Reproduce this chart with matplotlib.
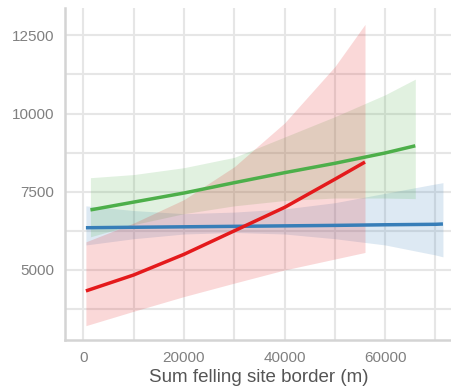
import numpy as np
import matplotlib.pyplot as plt
from matplotlib.ticker import MultipleLocator

plt.rcParams["font.family"] = ["Liberation Sans", "DejaVu Sans"]

# red series
red_x = [500, 10000, 20000, 30000, 40000, 50000, 56000]
red_fit = [4330, 4840, 5500, 6250, 7000, 7900, 8450]
red_lo = [3220, 3680, 4150, 4580, 5000, 5350, 5560]
red_hi = [5900, 6500, 7250, 8300, 9700, 11500, 12850]

# green series
green_x = [1400, 10000, 20000, 30000, 40000, 50000, 60000, 66000]
green_fit = [6920, 7170, 7460, 7790, 8110, 8410, 8740, 8970]
green_lo = [6060, 6450, 6800, 7050, 7220, 7300, 7300, 7280]
green_hi = [7950, 8050, 8270, 8600, 9250, 9900, 10600, 11100]

# blue series
blue_x = [500, 10000, 20000, 30000, 40000, 50000, 60000, 70000, 71500]
blue_fit = [6350, 6365, 6380, 6395, 6410, 6425, 6445, 6460, 6470]
blue_lo = [5800, 6000, 6150, 6200, 6150, 6000, 5800, 5480, 5420]
blue_hi = [7050, 6900, 6800, 6850, 6950, 7150, 7450, 7750, 7790]

series = [
    (blue_x, blue_fit, blue_lo, blue_hi, "#377eb8"),
    (green_x, green_fit, green_lo, green_hi, "#4daf4a"),
    (red_x, red_fit, red_lo, red_hi, "#e41a1c"),
]

fig = plt.figure(figsize=(4.52, 3.88), dpi=100)
ax = fig.add_axes([0.144, 0.124, 0.856, 0.855])

for x, fit, lo, hi, col in series:
    ax.fill_between(x, lo, hi, color=col, alpha=0.17, linewidth=0, zorder=2)
for x, fit, lo, hi, col in series:
    ax.plot(x, fit, color=col, lw=2.5, zorder=3, solid_capstyle="butt")

ax.set_xlim(-3640, 73300)
ax.set_ylim(2765, 13370)
ax.xaxis.set_major_locator(MultipleLocator(20000))
ax.xaxis.set_minor_locator(MultipleLocator(10000))
ax.yaxis.set_major_locator(MultipleLocator(2500))
ax.yaxis.set_minor_locator(MultipleLocator(1250))
ax.grid(which="both", color="#e6e6e6", lw=1.5, zorder=0)
ax.set_axisbelow(True)

for s in ["top", "right"]:
    ax.spines[s].set_visible(False)
for s in ["left", "bottom"]:
    ax.spines[s].set_color("#d4d4d4")
    ax.spines[s].set_linewidth(1.8)

ax.tick_params(which="both", length=0, labelsize=11, labelcolor="#808080", pad=8)
ax.set_xlabel("Sum felling site border (m)", fontsize=13.5, color="#555555", labelpad=3)

fig.savefig("out.png", dpi=100)
